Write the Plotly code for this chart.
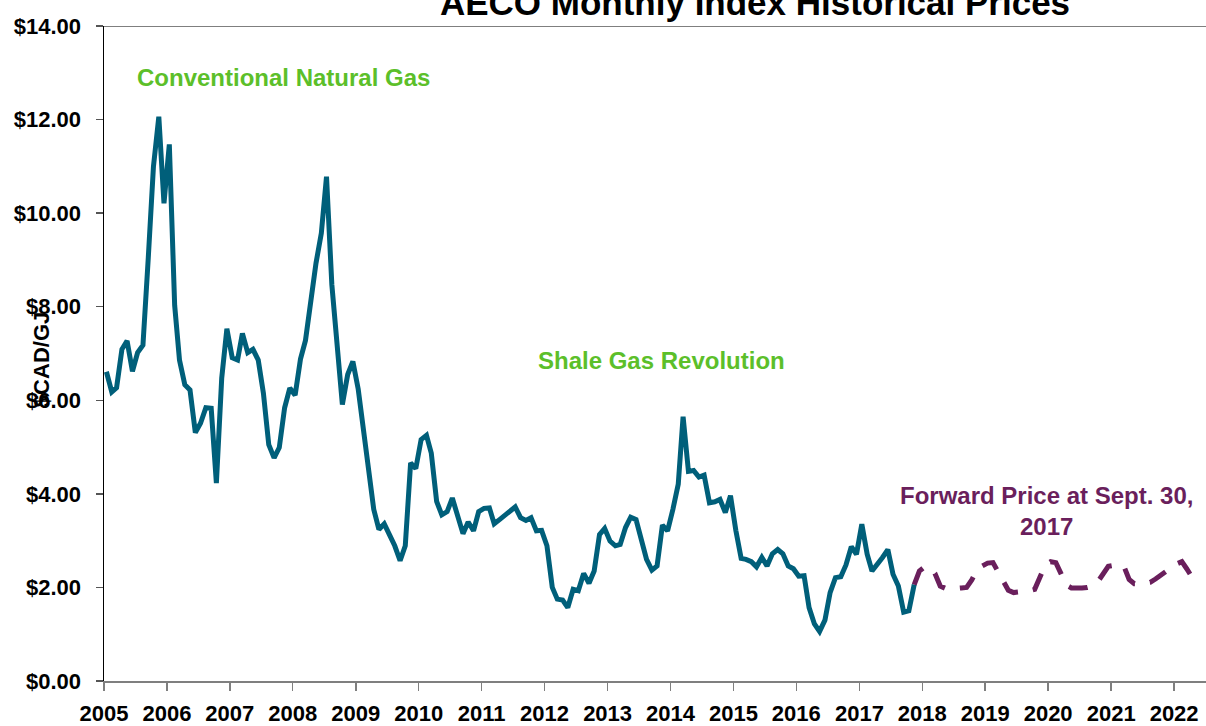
import pandas as pd
import plotly.graph_objects as go

# ---------------- data ----------------
hist_start = "2005-01"
hist_values = [
    6.61, 6.18, 6.27, 7.09, 7.27, 6.62, 7.02, 7.18, 9.05, 11.00, 12.06, 10.21,
    11.47, 8.03, 6.86, 6.33, 6.22, 5.31, 5.51, 5.84, 5.83, 4.23, 6.47, 7.53,
    6.91, 6.86, 7.43, 7.02, 7.09, 6.86, 6.15, 5.05, 4.77, 4.99, 5.84, 6.26,
    6.11, 6.88, 7.28, 8.20, 8.93, 9.57, 10.78, 8.47, 7.07, 5.91, 6.55, 6.83,
    6.24, 5.28, 4.48, 3.67, 3.24, 3.36, 3.13, 2.89, 2.57, 2.89, 4.66, 4.54,
    5.16, 5.25, 4.87, 3.84, 3.55, 3.62, 3.91, 3.54, 3.15, 3.40, 3.21, 3.62,
    3.69, 3.70, 3.36, 3.45, 3.54, 3.64, 3.72, 3.49, 3.43, 3.49, 3.21, 3.22,
    2.89, 2.00, 1.75, 1.73, 1.57, 1.96, 1.93, 2.30, 2.09, 2.35, 3.13, 3.26,
    2.99, 2.89, 2.92, 3.28, 3.50, 3.45, 3.06, 2.60, 2.37, 2.46, 3.33, 3.21,
    3.67, 4.21, 5.65, 4.48, 4.50, 4.36, 4.40, 3.81, 3.83, 3.88, 3.60, 3.96,
    3.22, 2.62, 2.60, 2.55, 2.44, 2.64, 2.46, 2.72, 2.81, 2.72, 2.46, 2.40,
    2.24, 2.25, 1.57, 1.22, 1.06, 1.30, 1.89, 2.21, 2.23, 2.48, 2.87, 2.71,
    3.35, 2.71, 2.35, 2.48, 2.64, 2.81, 2.28, 2.03, 1.47, 1.50, 2.06,
]

fwd_start = "2017-11"
fwd_values = [
    2.06, 2.35, 2.44, 2.42, 2.30, 2.03, 1.98, 1.97, 1.98, 1.99, 2.00, 2.16,
    2.38, 2.46, 2.52, 2.53, 2.36, 2.12, 1.94, 1.89, 1.90, 1.91, 1.93, 1.96,
    2.25, 2.48, 2.55, 2.53, 2.30, 2.05, 1.99, 1.98, 1.99, 2.00, 2.03, 2.12,
    2.30, 2.45, 2.47, 2.47, 2.46, 2.17, 2.08, 2.08, 2.09, 2.11, 2.18, 2.25,
    2.33, 2.42, 2.50, 2.55, 2.40, 2.22,
]

y_tick_values = [0, 2, 4, 6, 8, 10, 12, 14]
y_tick_labels = ["$0.00", "$2.00", "$4.00", "$6.00", "$8.00", "$10.00", "$12.00", "$14.00"]

title_text = "AECO Monthly Index Historical Prices"
y_title = "$CAD/GJ"
label_conventional = "Conventional Natural Gas"
label_shale = "Shale Gas Revolution"
label_forward = "Forward Price at Sept. 30,<br>2017"

# ---------------- styling ----------------
TEAL = "#005F7A"
PURPLE = "#6A1F5C"
GREEN = "#5CBF2A"
BOLD = "Liberation Sans, Arial, sans-serif"

FIG_W, FIG_H = 1206, 726


def month_dates(start, n):
    return pd.date_range(start=start + "-01", periods=n, freq="MS") + pd.Timedelta(days=14)


hist_x = month_dates(hist_start, len(hist_values))
fwd_x = month_dates(fwd_start, len(fwd_values))

fig = go.Figure()
fig.add_trace(go.Scatter(
    x=hist_x, y=hist_values, mode="lines",
    line=dict(color=TEAL, width=5), name="AECO", showlegend=False,
    hoverinfo="skip",
))
fig.add_trace(go.Scatter(
    x=fwd_x, y=fwd_values, mode="lines",
    line=dict(color=PURPLE, width=5, dash="19px,15px"), name="Forward",
    showlegend=False, hoverinfo="skip",
))

fig.update_layout(
    width=FIG_W, height=FIG_H,
    margin=dict(l=104, r=0, t=26, b=42),
    paper_bgcolor="white", plot_bgcolor="white",
    font=dict(family=BOLD, color="black"),
    hovermode=False,
    title=dict(
        text="<b>" + title_text + "</b>",
        x=755 / FIG_W, xanchor="center", xref="container",
        y=1 - 15 / FIG_H, yanchor="bottom", yref="container",
        font=dict(family=BOLD, size=35, color="black"),
    ),
    xaxis=dict(
        type="date",
        range=["2005-01-01", "2022-07-05"],
        tick0="2005-01-01", dtick="M12", tickformat="%Y",
        showgrid=False, zeroline=False,
        showline=True, linecolor="#7F7F7F", linewidth=2,
        ticks="outside", ticklen=8, tickcolor="#7F7F7F", tickwidth=1.5,
        tickfont=dict(family=BOLD, size=22, color="black", weight="bold"),
        ticklabelstandoff=4,
    ),
    yaxis=dict(
        range=[0, 14],
        tickvals=y_tick_values, ticktext=y_tick_labels,
        showgrid=False, zeroline=False,
        showline=True, linecolor="black", linewidth=1.5,
        ticks="outside", ticklen=7, tickcolor="#555555", tickwidth=1.5,
        tickfont=dict(family=BOLD, size=22, color="black", weight="bold"),
        ticklabelstandoff=10,
    ),
    shapes=[
        # top border line at the $14.00 level
        dict(type="line", xref="paper", yref="y", x0=0, x1=1, y0=14, y1=14,
             line=dict(color="#7F7F7F", width=2)),
    ],
    annotations=[
        dict(text="<b>" + label_conventional + "</b>", x="2005-06-29", y=12.89,
             xref="x", yref="y", xanchor="left", yanchor="middle", showarrow=False,
             font=dict(family=BOLD, size=24, color=GREEN)),
        dict(text="<b>" + label_shale + "</b>", x="2011-11-12", y=6.84,
             xref="x", yref="y", xanchor="left", yanchor="middle", showarrow=False,
             font=dict(family=BOLD, size=24, color=GREEN)),
        dict(text="<b>" + label_forward + "</b>", x="2019-12-24", y=3.63,
             xref="x", yref="y", xanchor="center", yanchor="middle", showarrow=False,
             align="center",
             font=dict(family=BOLD, size=24, color=PURPLE)),
        dict(text="<b>" + y_title + "</b>", x=-0.0565, y=0.491,
             xref="paper", yref="paper", xanchor="center", yanchor="middle",
             showarrow=False, textangle=-90,
             font=dict(family=BOLD, size=22, color="black")),
    ],
)

# remove the browser's default page margin so the figure fills the window exactly
fig.write_html(
    "out.html",
    config={"displayModeBar": False, "staticPlot": True},
    post_script="document.body.style.margin='0';"
                "document.documentElement.style.overflow='hidden';"
                "document.body.style.overflow='hidden';",
)
